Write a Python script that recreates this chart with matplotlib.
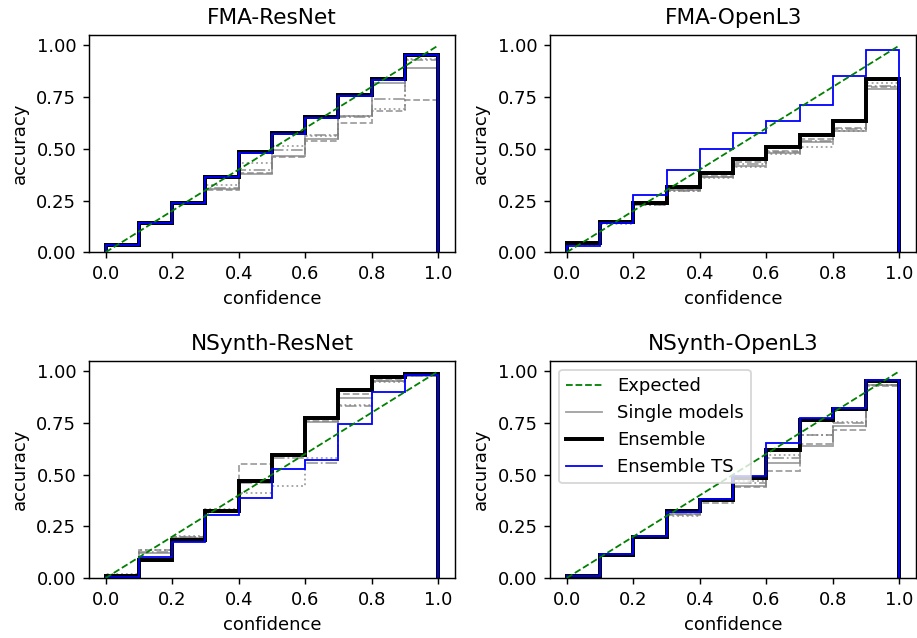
import numpy as np
import matplotlib
matplotlib.use('Agg')
from matplotlib import pyplot as plt
from matplotlib.ticker import MultipleLocator, FormatStrFormatter

edges = np.linspace(0, 1, 11)
titles = ['FMA-ResNet', 'FMA-OpenL3', 'NSynth-ResNet', 'NSynth-OpenL3']
single_styles = ['-', '--', ':', '-.']

# accuracy per confidence bin
fma_resnet_ens = [0.037, 0.141, 0.240, 0.365, 0.483, 0.575, 0.652, 0.758, 0.836, 0.956]
fma_resnet_ts = [0.035, 0.140, 0.238, 0.362, 0.480, 0.573, 0.650, 0.755, 0.833, 0.953]
fma_resnet_single = [
    [0.030, 0.140, 0.235, 0.305, 0.379, 0.466, 0.547, 0.660, 0.819, 0.892],
    [0.030, 0.138, 0.232, 0.300, 0.384, 0.460, 0.536, 0.625, 0.685, 0.738],
    [0.035, 0.142, 0.238, 0.324, 0.430, 0.515, 0.560, 0.660, 0.693, 0.935],
    [0.032, 0.140, 0.235, 0.310, 0.398, 0.495, 0.568, 0.655, 0.741, 0.930],
]

fma_openl3_ens = [0.044, 0.146, 0.240, 0.316, 0.385, 0.450, 0.511, 0.568, 0.633, 0.838]
fma_openl3_ts = [0.028, 0.141, 0.276, 0.398, 0.498, 0.576, 0.637, 0.714, 0.851, 0.977]
fma_openl3_single = [
    [0.040, 0.140, 0.232, 0.300, 0.366, 0.417, 0.480, 0.531, 0.585, 0.790],
    [0.040, 0.143, 0.235, 0.303, 0.368, 0.434, 0.490, 0.547, 0.600, 0.800],
    [0.035, 0.138, 0.228, 0.295, 0.360, 0.410, 0.475, 0.508, 0.585, 0.819],
    [0.038, 0.140, 0.230, 0.298, 0.364, 0.425, 0.485, 0.540, 0.595, 0.803],
]

nsynth_resnet_ens = [0.008, 0.089, 0.183, 0.322, 0.468, 0.594, 0.775, 0.908, 0.972, 0.985]
nsynth_resnet_ts = [0.005, 0.104, 0.173, 0.303, 0.387, 0.529, 0.573, 0.743, 0.901, 0.980]
nsynth_resnet_single = [
    [0.010, 0.120, 0.195, 0.325, 0.470, 0.590, 0.755, 0.872, 0.955, 0.978],
    [0.012, 0.136, 0.200, 0.330, 0.552, 0.595, 0.760, 0.890, 0.960, 0.980],
    [0.020, 0.136, 0.205, 0.335, 0.411, 0.443, 0.580, 0.836, 0.950, 0.975],
    [0.010, 0.125, 0.200, 0.330, 0.460, 0.580, 0.557, 0.830, 0.953, 0.978],
]

nsynth_openl3_ens = [0.011, 0.112, 0.200, 0.322, 0.379, 0.482, 0.621, 0.762, 0.816, 0.953]
nsynth_openl3_ts = [0.010, 0.115, 0.205, 0.320, 0.382, 0.492, 0.654, 0.772, 0.824, 0.956]
nsynth_openl3_single = [
    [0.010, 0.110, 0.200, 0.310, 0.370, 0.445, 0.557, 0.637, 0.735, 0.932],
    [0.010, 0.110, 0.195, 0.305, 0.365, 0.440, 0.516, 0.646, 0.718, 0.930],
    [0.012, 0.115, 0.205, 0.300, 0.370, 0.467, 0.597, 0.690, 0.756, 0.935],
    [0.010, 0.112, 0.200, 0.310, 0.372, 0.460, 0.580, 0.691, 0.750, 0.934],
]

panels = [
    (fma_resnet_single, fma_resnet_ens, fma_resnet_ts),
    (fma_openl3_single, fma_openl3_ens, fma_openl3_ts),
    (nsynth_resnet_single, nsynth_resnet_ens, nsynth_resnet_ts),
    (nsynth_openl3_single, nsynth_openl3_ens, nsynth_openl3_ts),
]

fig, axes = plt.subplots(2, 2, figsize=(917 / 130, 638 / 130), dpi=130)
for ax, title, (singles, ens, ts) in zip(axes.flat, titles, panels):
    ax.plot([0, 1], [0, 1], 'g--', linewidth=1.0, label='Expected', zorder=5)
    for i, (acc, ls) in enumerate(zip(singles, single_styles)):
        ax.stairs(acc, edges, color='gray', alpha=0.75, linestyle=ls,
                  linewidth=1.0, label='Single models' if i == 0 else None)
    ax.stairs(ens, edges, color='black', linewidth=2.2, label='Ensemble')
    ax.stairs(ts, edges, color='blue', linewidth=1.0, label='Ensemble TS')
    ax.set_title(title)
    ax.set_xlabel('confidence')
    ax.set_ylabel('accuracy')
    ax.yaxis.set_major_locator(MultipleLocator(0.25))
    ax.yaxis.set_major_formatter(FormatStrFormatter('%.2f'))

axes[1, 1].legend(loc='upper left')
fig.subplots_adjust(left=0.097, right=0.999, top=0.945, bottom=0.094,
                    wspace=0.26, hspace=0.50)
fig.savefig('out.png', dpi=130)
